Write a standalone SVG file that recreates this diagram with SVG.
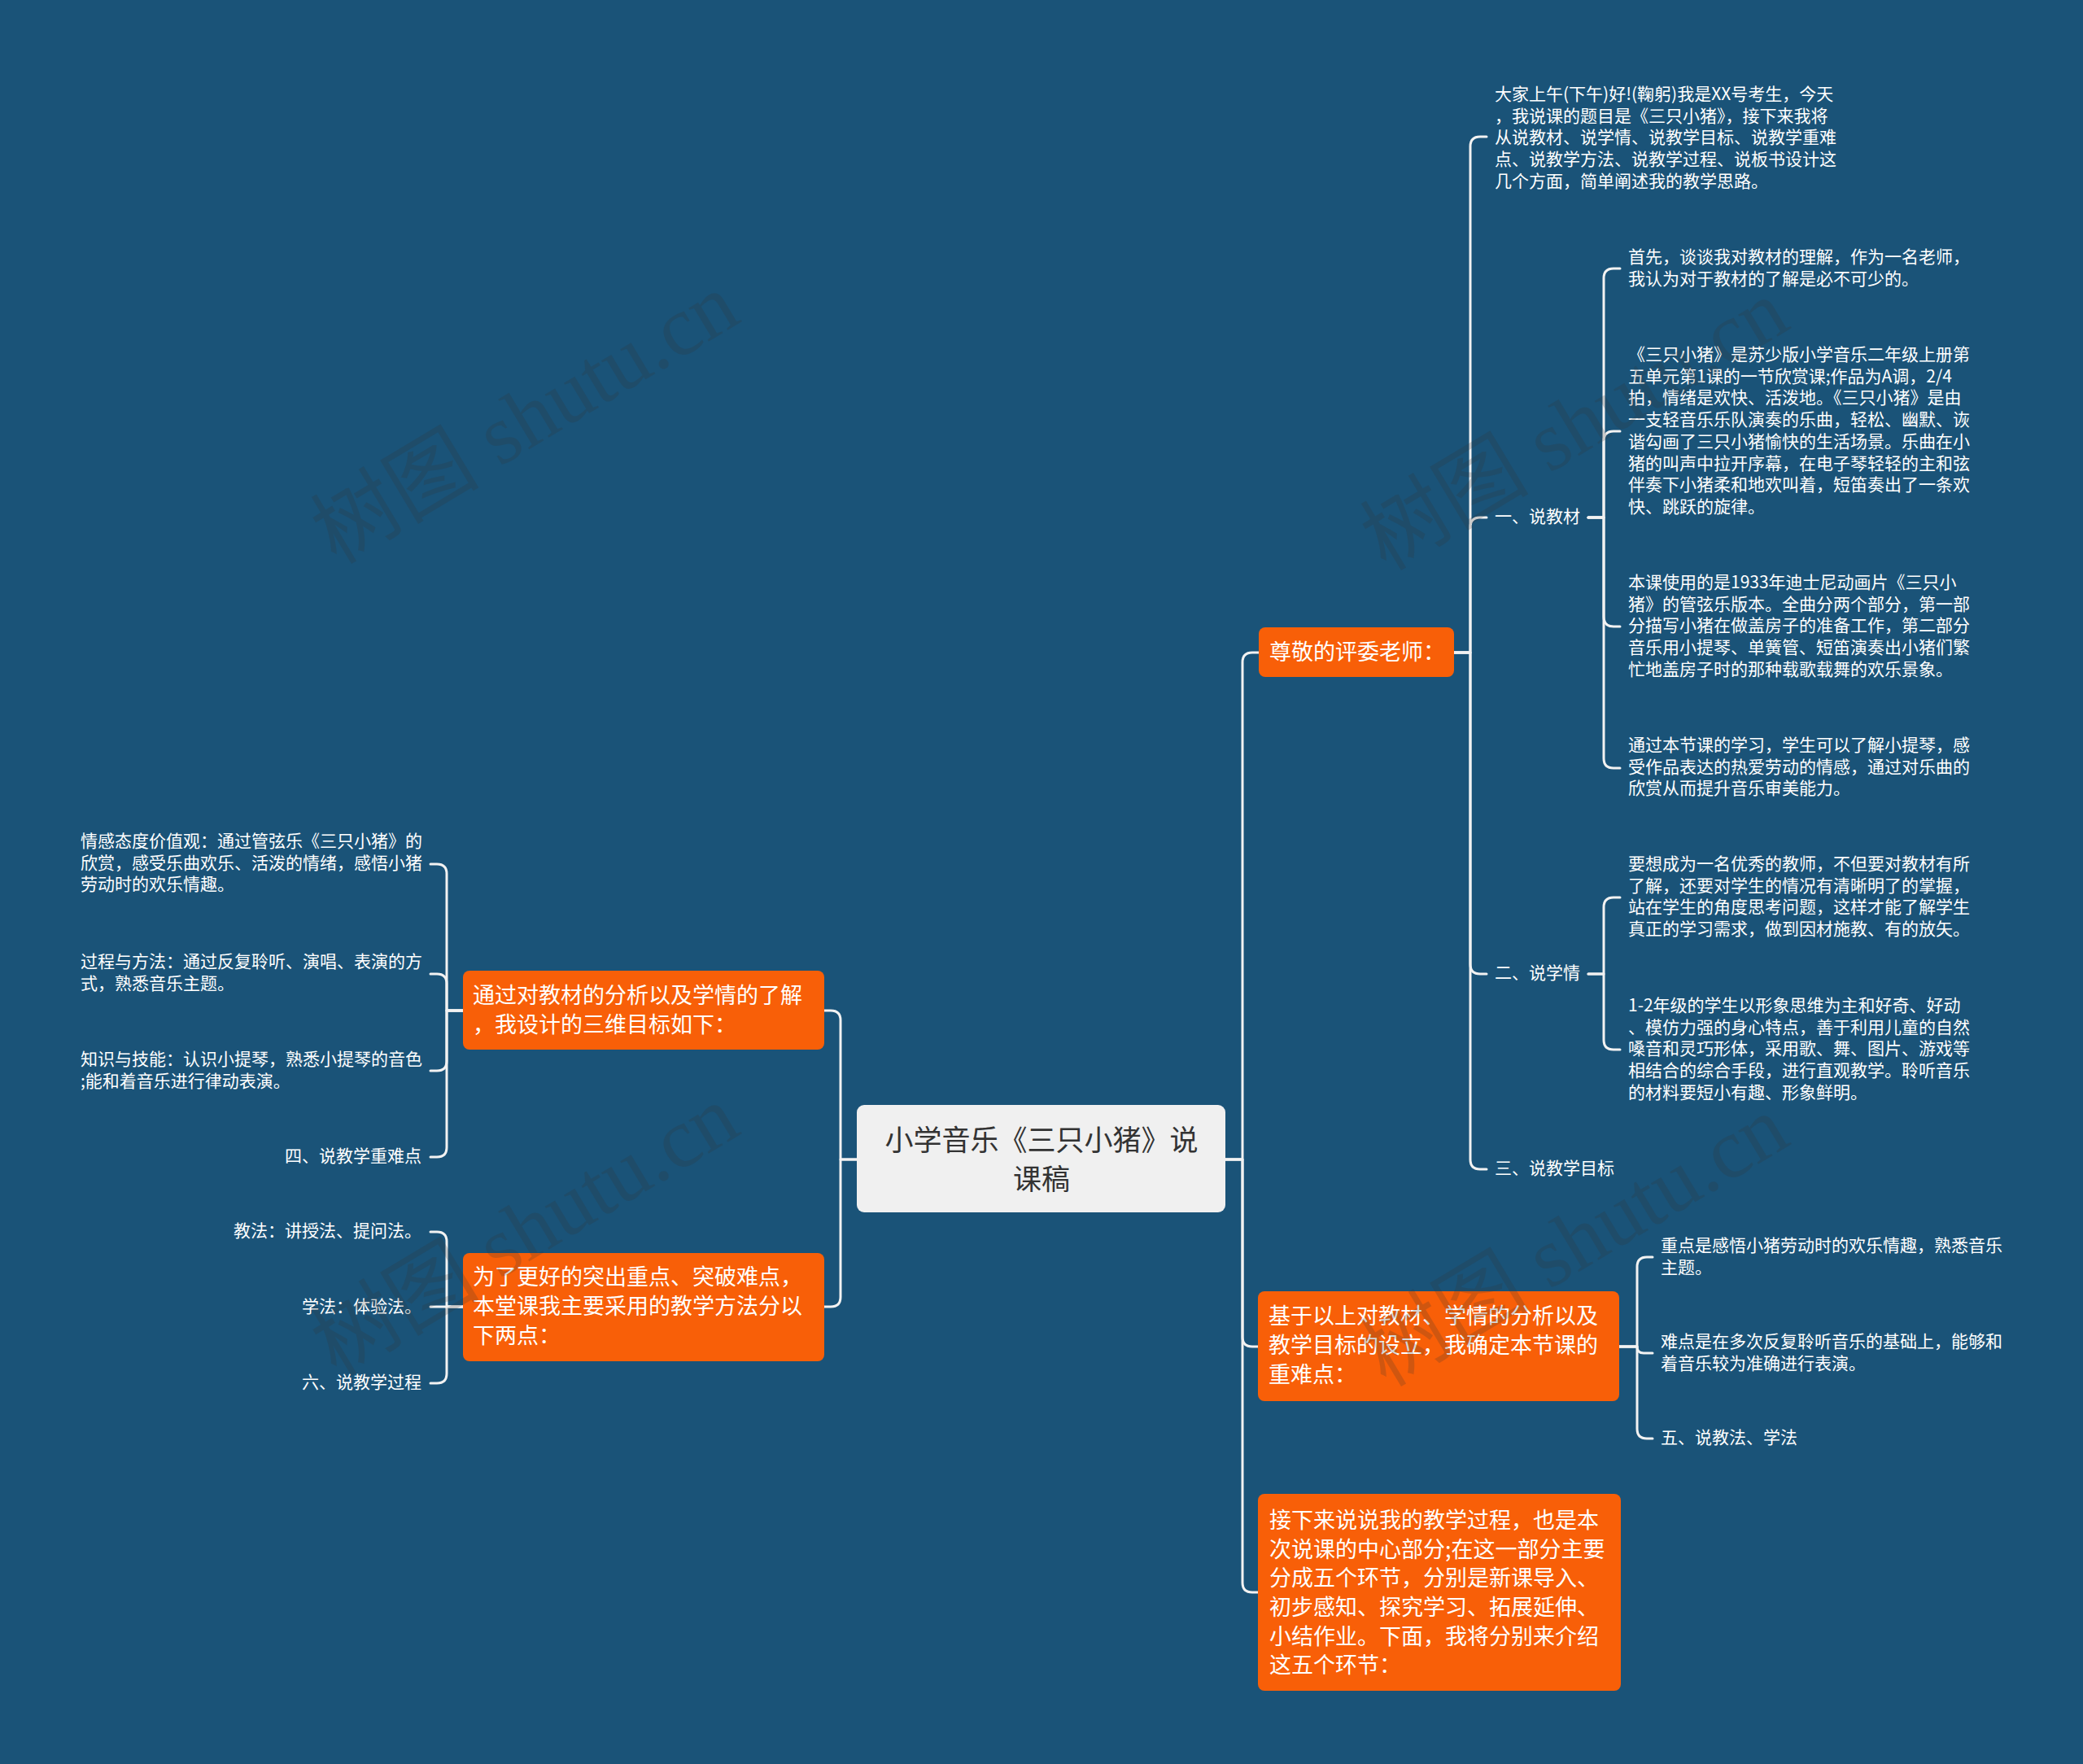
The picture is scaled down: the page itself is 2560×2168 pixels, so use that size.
<svg xmlns="http://www.w3.org/2000/svg" width="2560" height="2168" viewBox="0 0 2560 2168">
<style>
.bg{fill:#1a5378}
.cn{fill:none;stroke:#f2f2f2;stroke-width:3;stroke-linecap:round;stroke-linejoin:round}
.box{fill:#f85f08}
.root{fill:#f0f0f0}
text{font-family:"Noto Sans CJK SC","Liberation Sans",sans-serif;dominant-baseline:central}
.rt{font-size:35px;fill:#333;text-anchor:middle}
.nt{font-size:27px;fill:#ffffff}
.lt{font-size:21px;fill:#ffffff}
.le{text-anchor:end}
.wm{font-family:"Liberation Serif","Noto Sans CJK SC",serif;font-size:104px;fill:#333333;opacity:0.2;text-anchor:middle}
</style>
<rect class="bg" x="0" y="0" width="2560" height="2168"/>

<g id="connectors">
<path class="cn" d="M1506,1425 H1527 V814 Q1527,802 1539,802 H1547"/>
<path class="cn" d="M1506,1425 H1527 V1643 Q1527,1655 1539,1655 H1546"/>
<path class="cn" d="M1506,1425 H1527 V1945 Q1527,1957 1539,1957 H1546"/>
<path class="cn" d="M1053,1425 H1033 V1254 Q1033,1242 1021,1242 H1013"/>
<path class="cn" d="M1053,1425 H1033 V1594 Q1033,1606 1021,1606 H1013"/>
<path class="cn" d="M1787,802 H1807 V180 Q1807,168 1819,168 H1827"/>
<path class="cn" d="M1787,802 H1807 V648 Q1807,636 1819,636 H1827"/>
<path class="cn" d="M1787,802 H1807 V1185 Q1807,1197 1819,1197 H1827"/>
<path class="cn" d="M1787,802 H1807 V1425 Q1807,1437 1819,1437 H1827"/>
<path class="cn" d="M1952,636 H1971 V342 Q1971,330 1983,330 H1991"/>
<path class="cn" d="M1952,636 H1971 V542 Q1971,530 1983,530 H1991"/>
<path class="cn" d="M1952,636 H1971 V758 Q1971,770 1983,770 H1991"/>
<path class="cn" d="M1952,636 H1971 V932 Q1971,944 1983,944 H1991"/>
<path class="cn" d="M1952,1197 H1971 V1115 Q1971,1103 1983,1103 H1991"/>
<path class="cn" d="M1952,1197 H1971 V1278 Q1971,1290 1983,1290 H1991"/>
<path class="cn" d="M1990,1655 H2012 V1557 Q2012,1545 2024,1545 H2031"/>
<path class="cn" d="M1990,1655 H2012 Q2012,1663 2020,1663 H2031"/>
<path class="cn" d="M1990,1655 H2012 V1756 Q2012,1768 2024,1768 H2031"/>
<path class="cn" d="M569,1242 H549 V1074 Q549,1062 537,1062 H529"/>
<path class="cn" d="M569,1242 H549 V1209 Q549,1197 537,1197 H529"/>
<path class="cn" d="M569,1242 H549 V1304 Q549,1316 537,1316 H529"/>
<path class="cn" d="M569,1242 H549 V1410 Q549,1422 537,1422 H529"/>
<path class="cn" d="M569,1606 H549 V1526 Q549,1514 537,1514 H529"/>
<path class="cn" d="M569,1606 H529"/>
<path class="cn" d="M569,1606 H549 V1688 Q549,1700 537,1700 H529"/>
</g>

<g id="root">
<rect class="root" x="1053" y="1358" width="453" height="132" rx="9"/>
<text class="rt" x="1280" y="1398">小学音乐《三只小猪》说</text>
<text class="rt" x="1280" y="1446">课稿</text>
</g>

<g id="n-zunjing">
<rect class="box" x="1547" y="771" width="240" height="61" rx="8"/>
<text class="nt" x="1560" y="799">尊敬的评委老师：</text>
</g>

<g id="n-jiyu">
<rect class="box" x="1546" y="1587" width="444" height="135" rx="8"/>
<text class="nt" x="1559" y="1615">基于以上对教材、学情的分析以及</text>
<text class="nt" x="1559" y="1651">教学目标的设立，我确定本节课的</text>
<text class="nt" x="1559" y="1687">重难点：</text>
</g>

<g id="n-jiexialai">
<rect class="box" x="1546" y="1836" width="446" height="242" rx="8"/>
<text class="nt" x="1560" y="1866">接下来说说我的教学过程，也是本</text>
<text class="nt" x="1560" y="1902">次说课的中心部分;在这一部分主要</text>
<text class="nt" x="1560" y="1937">分成五个环节，分别是新课导入、</text>
<text class="nt" x="1560" y="1973">初步感知、探究学习、拓展延伸、</text>
<text class="nt" x="1560" y="2009">小结作业。下面，我将分别来介绍</text>
<text class="nt" x="1560" y="2044">这五个环节：</text>
</g>

<g id="n-tongguo">
<rect class="box" x="569" y="1193" width="444" height="97" rx="8"/>
<text class="nt" x="581" y="1221">通过对教材的分析以及学情的了解</text>
<text class="nt" x="581" y="1257">，我设计的三维目标如下：</text>
</g>

<g id="n-weile">
<rect class="box" x="569" y="1540" width="444" height="133" rx="8"/>
<text class="nt" x="581" y="1567">为了更好的突出重点、突破难点，</text>
<text class="nt" x="581" y="1603">本堂课我主要采用的教学方法分以</text>
<text class="nt" x="581" y="1639">下两点：</text>
</g>

<g id="l-dajia">
<text class="lt" x="1837" y="114">大家上午(下午)好!(鞠躬)我是XX号考生，今天</text>
<text class="lt" x="1837" y="140.7">，我说课的题目是《三只小猪》，接下来我将</text>
<text class="lt" x="1837" y="167.4">从说教材、说学情、说教学目标、说教学重难</text>
<text class="lt" x="1837" y="194.1">点、说教学方法、说教学过程、说板书设计这</text>
<text class="lt" x="1837" y="220.8">几个方面，简单阐述我的教学思路。</text>
</g>

<g id="l-jiaocai">
<text class="lt" x="1837" y="633">一、说教材</text>
</g>

<g id="l-shouxian">
<text class="lt" x="2001" y="314">首先，谈谈我对教材的理解，作为一名老师，</text>
<text class="lt" x="2001" y="340.7">我认为对于教材的了解是必不可少的。</text>
</g>

<g id="l-sanzhi">
<text class="lt" x="2001" y="434">《三只小猪》是苏少版小学音乐二年级上册第</text>
<text class="lt" x="2001" y="460.7">五单元第1课的一节欣赏课;作品为A调，2/4</text>
<text class="lt" x="2001" y="487.4">拍，情绪是欢快、活泼地。《三只小猪》是由</text>
<text class="lt" x="2001" y="514.1">一支轻音乐乐队演奏的乐曲，轻松、幽默、诙</text>
<text class="lt" x="2001" y="540.8">谐勾画了三只小猪愉快的生活场景。乐曲在小</text>
<text class="lt" x="2001" y="567.5">猪的叫声中拉开序幕，在电子琴轻轻的主和弦</text>
<text class="lt" x="2001" y="594.2">伴奏下小猪柔和地欢叫着，短笛奏出了一条欢</text>
<text class="lt" x="2001" y="620.9">快、跳跃的旋律。</text>
</g>

<g id="l-benke">
<text class="lt" x="2001" y="714">本课使用的是1933年迪士尼动画片《三只小</text>
<text class="lt" x="2001" y="740.7">猪》的管弦乐版本。全曲分两个部分，第一部</text>
<text class="lt" x="2001" y="767.4">分描写小猪在做盖房子的准备工作，第二部分</text>
<text class="lt" x="2001" y="794.1">音乐用小提琴、单簧管、短笛演奏出小猪们繁</text>
<text class="lt" x="2001" y="820.8">忙地盖房子时的那种载歌载舞的欢乐景象。</text>
</g>

<g id="l-tongguobenjie">
<text class="lt" x="2001" y="914">通过本节课的学习，学生可以了解小提琴，感</text>
<text class="lt" x="2001" y="940.7">受作品表达的热爱劳动的情感，通过对乐曲的</text>
<text class="lt" x="2001" y="967.4">欣赏从而提升音乐审美能力。</text>
</g>

<g id="l-xueqing">
<text class="lt" x="1837" y="1194">二、说学情</text>
</g>

<g id="l-yaoxiang">
<text class="lt" x="2001" y="1060">要想成为一名优秀的教师，不但要对教材有所</text>
<text class="lt" x="2001" y="1086.7">了解，还要对学生的情况有清晰明了的掌握，</text>
<text class="lt" x="2001" y="1113.4">站在学生的角度思考问题，这样才能了解学生</text>
<text class="lt" x="2001" y="1140.1">真正的学习需求，做到因材施教、有的放矢。</text>
</g>

<g id="l-nianji">
<text class="lt" x="2001" y="1234">1-2年级的学生以形象思维为主和好奇、好动</text>
<text class="lt" x="2001" y="1260.7">、模仿力强的身心特点，善于利用儿童的自然</text>
<text class="lt" x="2001" y="1287.4">嗓音和灵巧形体，采用歌、舞、图片、游戏等</text>
<text class="lt" x="2001" y="1314.1">相结合的综合手段，进行直观教学。聆听音乐</text>
<text class="lt" x="2001" y="1340.8">的材料要短小有趣、形象鲜明。</text>
</g>

<g id="l-mubiao">
<text class="lt" x="1837" y="1434">三、说教学目标</text>
</g>

<g id="l-zhongdian">
<text class="lt" x="2041" y="1529">重点是感悟小猪劳动时的欢乐情趣，熟悉音乐</text>
<text class="lt" x="2041" y="1555.7">主题。</text>
</g>

<g id="l-nandian">
<text class="lt" x="2041" y="1647">难点是在多次反复聆听音乐的基础上，能够和</text>
<text class="lt" x="2041" y="1673.7">着音乐较为准确进行表演。</text>
</g>

<g id="l-jiaofa5">
<text class="lt" x="2041" y="1765">五、说教法、学法</text>
</g>

<g id="l-qinggan">
<text class="lt" x="99" y="1032">情感态度价值观：通过管弦乐《三只小猪》的</text>
<text class="lt" x="99" y="1058.7">欣赏，感受乐曲欢乐、活泼的情绪，感悟小猪</text>
<text class="lt" x="99" y="1085.4">劳动时的欢乐情趣。</text>
</g>

<g id="l-guocheng">
<text class="lt" x="99" y="1180">过程与方法：通过反复聆听、演唱、表演的方</text>
<text class="lt" x="99" y="1206.7">式，熟悉音乐主题。</text>
</g>

<g id="l-zhishi">
<text class="lt" x="99" y="1300">知识与技能：认识小提琴，熟悉小提琴的音色</text>
<text class="lt" x="99" y="1326.7">;能和着音乐进行律动表演。</text>
</g>

<g id="l-zhongnan">
<text class="lt le" x="518" y="1419">四、说教学重难点</text>
</g>

<g id="l-jiaofa">
<text class="lt le" x="518" y="1511">教法：讲授法、提问法。</text>
</g>

<g id="l-xuefa">
<text class="lt le" x="518" y="1604">学法：体验法。</text>
</g>

<g id="l-guocheng6">
<text class="lt le" x="518" y="1697">六、说教学过程</text>
</g>

<g id="watermarks">
<text class="wm" transform="translate(645,514) rotate(-31)">树图 shutu.cn</text>
<text class="wm" transform="translate(1935,522) rotate(-31)">树图 shutu.cn</text>
<text class="wm" transform="translate(645,1512) rotate(-31)">树图 shutu.cn</text>
<text class="wm" transform="translate(1935,1525) rotate(-31)">树图 shutu.cn</text>
</g>
</svg>
